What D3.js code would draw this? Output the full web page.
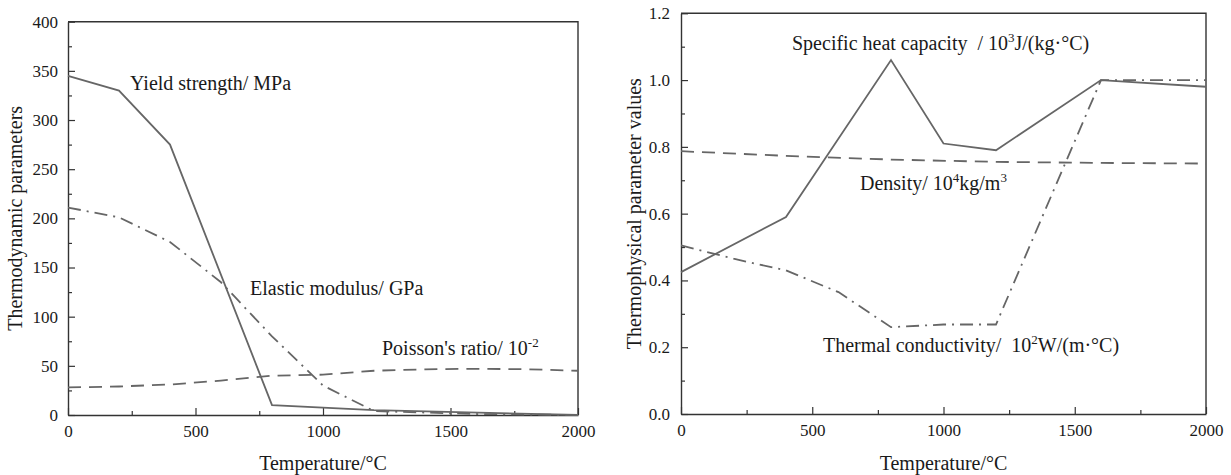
<!DOCTYPE html>
<html>
<head>
<meta charset="utf-8">
<script src="https://cdn.jsdelivr.net/npm/d3@7"></script>
<style>
  html, body { margin: 0; padding: 0; background: #fff; }
  svg text { font-family: "Liberation Serif", "Times New Roman", serif; fill: #1a1a1a; white-space: pre; }
</style>
</head>
<body>
<svg id="fig" width="1231" height="475"></svg>
<script>
// ---- Left panel: thermodynamic parameters vs temperature ----
const yieldTemps   = [0, 200, 400, 800, 1200, 2000];
const yieldValues  = [345, 330, 275, 10, 5, 0];
const modulusTemps  = [0, 200, 400, 600, 800, 1000, 1200, 1600, 2000];
const modulusValues = [211, 201, 176, 135, 80, 30, 4, 1, 0];
const poissonTemps  = [0, 200, 400, 600, 800, 1000, 1200, 1400, 1600, 1800, 2000];
const poissonValues = [28, 29, 31, 35, 40, 41, 45, 46.5, 47, 46.5, 45];

// ---- Right panel: thermophysical parameters vs temperature ----
const heatTemps    = [0, 400, 800, 1000, 1200, 1600, 2000];
const heatValues   = [0.425, 0.59, 1.06, 0.81, 0.79, 1.0, 0.98];
const densityTemps  = [0, 400, 800, 1200, 1600, 2000];
const densityValues = [0.787, 0.773, 0.762, 0.755, 0.752, 0.75];
const condTemps    = [0, 200, 400, 600, 800, 1000, 1200, 1600, 2000];
const condValues   = [0.505, 0.465, 0.43, 0.365, 0.26, 0.268, 0.268, 1.0, 1.0];

// Tick values
const xMajorTicks = [0, 500, 1000, 1500, 2000];
const xMinorTicks = [250, 750, 1250, 1750];
const leftMajorTicks = [0, 50, 100, 150, 200, 250, 300, 350, 400];
const leftMinorTicks = [25, 75, 125, 175, 225, 275, 325, 375];
const rightMajorTicks = [0, 0.2, 0.4, 0.6, 0.8, 1.0, 1.2];
const rightMinorTicks = [0.1, 0.3, 0.5, 0.7, 0.9, 1.1];

const svg = d3.select("#fig");
const lineColor = "#666";
const axisColor = "#333";
const dashed = "13,8";
const dashDot = "13,6,2,6";
const serif = '"Liberation Serif", "Times New Roman", serif';

function panel(opts) {
  const g = svg.append("g");
  const x = d3.scaleLinear().domain([0, 2000]).range([opts.left, opts.right]);
  const y = d3.scaleLinear().domain(opts.yDomain).range([opts.bottom, opts.top]);

  // frame (top and right edges)
  g.append("path")
    .attr("d", `M${opts.left},${opts.top}H${opts.right}V${opts.bottom}`)
    .attr("fill", "none").attr("stroke", axisColor).attr("stroke-width", 1.4);

  // bottom axis: inward ticks
  const xMajor = d3.axisBottom(x).tickValues(xMajorTicks).tickSizeInner(-7).tickSizeOuter(0)
    .tickPadding(16).tickFormat(d3.format("d"));
  const xMinor = d3.axisBottom(x).tickValues(xMinorTicks).tickSizeInner(-4).tickSizeOuter(0).tickFormat("");
  const gx = g.append("g").attr("transform", `translate(0,${opts.bottom})`).call(xMajor);
  g.append("g").attr("transform", `translate(0,${opts.bottom})`).call(xMinor).select(".domain").remove();

  // left axis: inward ticks
  const yMajor = d3.axisLeft(y).tickValues(opts.yMajor).tickSizeInner(-7).tickSizeOuter(0)
    .tickPadding(opts.yPad).tickFormat(opts.yFormat);
  const yMinor = d3.axisLeft(y).tickValues(opts.yMinor).tickSizeInner(-4).tickSizeOuter(0).tickFormat("");
  g.append("g").attr("transform", `translate(${opts.left},0)`).call(yMajor);
  g.append("g").attr("transform", `translate(${opts.left},0)`).call(yMinor).select(".domain").remove();

  g.selectAll("g").attr("font-family", serif);
  g.selectAll(".domain").attr("stroke", axisColor).attr("stroke-width", 1.4);
  g.selectAll(".tick line").attr("stroke", axisColor).attr("stroke-width", 1.2);
  g.selectAll(".tick text").attr("font-size", 17).attr("fill", "#1a1a1a");
  gx.selectAll(".tick text").attr("dy", "0.35em").attr("y", 16);

  // axis titles
  g.append("text")
    .attr("x", (opts.left + opts.right) / 2).attr("y", 470)
    .attr("text-anchor", "middle").attr("font-size", 20)
    .text("Temperature/°C");
  g.append("text")
    .attr("transform", `translate(${opts.yTitleX},${(opts.top + opts.bottom) / 2}) rotate(-90)`)
    .attr("text-anchor", "middle").attr("font-size", 20)
    .text(opts.yTitle);

  const line = d3.line().x(d => x(d[0])).y(d => y(d[1]));
  opts.series.forEach(s => {
    g.append("path")
      .datum(d3.zip(s.t, s.v))
      .attr("d", line)
      .attr("fill", "none")
      .attr("stroke", lineColor)
      .attr("stroke-width", 1.8)
      .attr("stroke-dasharray", s.dash || null);
  });

  // curve labels, with superscript runs
  opts.labels.forEach(l => {
    const t = g.append("text").attr("x", l.x).attr("y", l.y).attr("font-size", 20);
    let raised = false;
    l.parts.forEach(p => {
      if (p.sup) {
        t.append("tspan").attr("font-size", 13).attr("dy", raised ? 0 : -8).text(p.sup);
        raised = true;
      } else {
        t.append("tspan").attr("dy", raised ? 8 : 0).text(p.t);
        raised = false;
      }
    });
  });
  return { x, y };
}

panel({
  left: 68, right: 578, top: 21.7, bottom: 415,
  yDomain: [0, 400], yMajor: leftMajorTicks, yMinor: leftMinorTicks,
  yFormat: d3.format("d"), yPad: 10, yTitleX: 22,
  yTitle: "Thermodynamic parameters",
  series: [
    { t: yieldTemps, v: yieldValues },
    { t: modulusTemps, v: modulusValues, dash: dashDot },
    { t: poissonTemps, v: poissonValues, dash: dashed }
  ],
  labels: [
    { x: 130, y: 90, parts: [{ t: "Yield strength/ MPa" }] },
    { x: 250, y: 295, parts: [{ t: "Elastic modulus/ GPa" }] },
    { x: 382, y: 355, parts: [{ t: "Poisson's ratio/ 10" }, { sup: "-2" }] }
  ]
});

panel({
  left: 681, right: 1206, top: 13.3, bottom: 414,
  yDomain: [0, 1.2], yMajor: rightMajorTicks, yMinor: rightMinorTicks,
  yFormat: d3.format(".1f"), yPad: 11, yTitleX: 641,
  yTitle: "Thermophysical parameter values",
  series: [
    { t: heatTemps, v: heatValues },
    { t: densityTemps, v: densityValues, dash: dashed },
    { t: condTemps, v: condValues, dash: dashDot }
  ],
  labels: [
    { x: 792, y: 50, parts: [{ t: "Specific heat capacity  / 10" }, { sup: "3" }, { t: "J/(kg·°C)" }] },
    { x: 860, y: 190, parts: [{ t: "Density/ 10" }, { sup: "4" }, { t: "kg/m" }, { sup: "3" }] },
    { x: 823, y: 352, parts: [{ t: "Thermal conductivity/  10" }, { sup: "2" }, { t: "W/(m·°C)" }] }
  ]
});
</script>
</body>
</html>
